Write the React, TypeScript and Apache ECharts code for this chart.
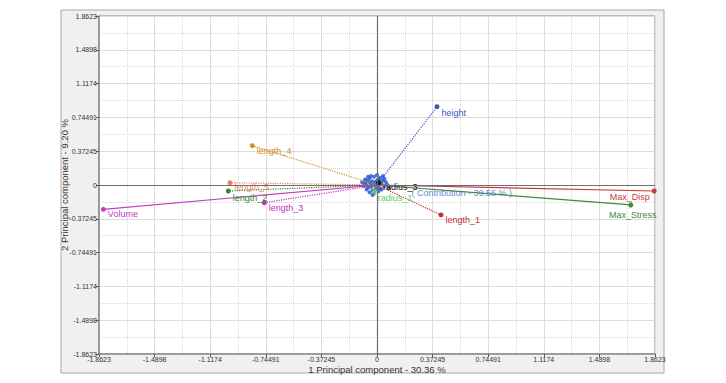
import React, { useEffect, useRef } from "react";
import * as echarts from "echarts";

const tickLabels = ["-1.8623", "-1.4898", "-1.1174", "-0.74491", "-0.37245", "0", "0.37245", "0.74491", "1.1174", "1.4898", "1.8623"];
const axisMax = 1.8623;
const axisStep = 0.37246;

const varNames = ["height", "length_4", "length_5", "length_2", "length_3", "Volume", "length_1", "Max_Disp", "Max_Stress", "radius_3", "radius_1"];
const varX = [0.402, -0.835, -0.985, -0.996, -0.755, -1.833, 0.429, 1.857, 1.70, 0.01, -0.018];
const varY = [0.863, 0.433, 0.025, -0.066, -0.195, -0.268, -0.33, -0.066, -0.22, 0.025, -0.074];
const varColors = ["#3557c8", "#d4901e", "#f07f5e", "#2f8a2f", "#c232c2", "#c23cc2", "#c8302c", "#c83a3a", "#3c8c3c", "#111111", "#5ecf5e"];
const varLineTypes = ["dotted", "dotted", "dotted", "dotted", "dotted", "solid", "dotted", "solid", "solid", "dotted", "dotted"];

const obsX = [-0.08, -0.07, -0.06, -0.05, -0.04, -0.03, -0.02, -0.01, 0.0, 0.01, 0.02, 0.03, 0.04, 0.05, 0.06, -0.09, -0.07, -0.05, -0.03, -0.02, 0.0, 0.02, -0.06, -0.04, 0.01, 0.03, -0.08, -0.01, 0.04, 0.07, -0.05, -0.03, 0.0, -0.07, 0.02, -0.1, 0.08, -0.02, 0.05, -0.04];
const obsY = [0.02, 0.05, -0.03, 0.07, 0.01, -0.06, 0.09, 0.03, -0.02, 0.06, -0.04, 0.02, 0.05, -0.01, 0.03, -0.01, -0.05, -0.08, 0.04, -0.09, 0.11, 0.08, 0.09, -0.02, -0.07, -0.05, 0.06, -0.04, 0.1, 0.0, 0.03, -0.11, 0.05, 0.0, 0.01, 0.03, -0.03, 0.0, 0.07, 0.1];

const contributionText = "( Contribution - 39.56 % )";
const contributionAt = [0.228, -0.088];

const xName = "1 Principal component - 30.36 %";
const yName = "2 Principal component - 9.20 %";

const labelOffsets: Record<string, any> = {
  height: { position: "right", offset: [-3, 6] },
  length_4: { position: "right", offset: [-3, 5] },
  length_5: { position: "right", offset: [-3, 4] },
  length_2: { position: "right", offset: [-3, 7] },
  length_3: { position: "right", offset: [-3, 5] },
  Volume: { position: "right", offset: [-3, 5] },
  length_1: { position: "right", offset: [-3, 5] },
  Max_Disp: { position: "left", offset: [3, 6] },
  Max_Stress: { position: "bottom", offset: [2, -2] },
  radius_3: { position: "right", offset: [-3, 4] },
  radius_1: { position: "right", offset: [-4, 6] },
};

export default function App() {
  const ref = useRef<HTMLDivElement>(null);
  useEffect(() => {
    if (!ref.current) return;
    const chart = echarts.init(ref.current, null, { renderer: "svg" });
    const font = "Liberation Sans, Arial, sans-serif";
    const fmt = (v: number) => {
      const i = Math.round((v + axisMax) / axisStep);
      return tickLabels[i] ?? "";
    };
    const series: any[] = [];
    series.push({
      type: "scatter",
      name: "obs",
      data: obsX.map((x, i) => [x, obsY[i]]),
      symbolSize: 4,
      itemStyle: { color: "#2050d0" },
      z: 3,
      markLine: {
        silent: true,
        symbol: "none",
        label: { show: false },
        lineStyle: { color: "#6e6e6e", width: 1.2, type: "solid" },
        data: [{ xAxis: 0 }, { yAxis: 0 }],
      },
    });
    varNames.forEach((n, i) => {
      const lo = labelOffsets[n];
      series.push({
        type: "line",
        name: n,
        data: [
          { value: [0, 0], symbol: "none", label: { show: false } },
          {
            value: [varX[i], varY[i]],
            symbol: "circle",
            symbolSize: 5,
            label: {
              show: true,
              formatter: n,
              position: lo.position,
              offset: lo.offset,
              color: varColors[i],
              fontFamily: font,
              fontSize: 9,
            },
          },
        ],
        lineStyle: { color: varColors[i], width: 1.2, type: varLineTypes[i] },
        itemStyle: { color: varColors[i] },
        z: 4,
      });
    });
    series.push({
      type: "scatter",
      name: "contribution",
      data: [contributionAt],
      symbolSize: 1,
      itemStyle: { color: "rgba(0,0,0,0)" },
      label: {
        show: true,
        formatter: contributionText,
        position: "right",
        distance: 0,
        color: "#3a66c8",
        fontFamily: font,
        fontSize: 9,
      },
      z: 5,
    });
    const axisCommon = {
      type: "value",
      min: -axisMax,
      max: axisMax,
      interval: axisStep,
      axisLine: { show: true, onZero: false, lineStyle: { color: "#8a8a8a", width: 1.5 } },
      axisTick: { show: true, length: 3, lineStyle: { color: "#555" } },
      axisLabel: { formatter: fmt, fontSize: 7, color: "#333", fontFamily: font, margin: 2 },
      splitLine: { show: true, lineStyle: { color: "#dcdcdc", width: 1 } },
      minorTick: { show: false, splitNumber: 2 },
      minorSplitLine: { show: true, lineStyle: { color: "#d8d8d8", type: "dotted", width: 1 } },
      nameLocation: "middle",
      nameMoveOverlap: false,
      nameTextStyle: { fontFamily: font, fontSize: 9.5, color: "#333" },
    };
    chart.setOption({
      animation: false,
      graphic: [
        {
          type: "rect",
          z: -10,
          silent: true,
          shape: { x: 61, y: 10, width: 603, height: 363 },
          style: { fill: "#f0f0f0", stroke: "#a8a8a8", lineWidth: 1 },
        },
      ],
      grid: {
        left: 99,
        right: 71,
        top: 16,
        bottom: 29,
        show: true,
        backgroundColor: "#ffffff",
        borderColor: "#8a8a8a",
        borderWidth: 1,
      },
      xAxis: { ...axisCommon, name: xName, nameGap: 10 },
      yAxis: { ...axisCommon, name: yName, nameGap: 30, nameRotate: 90 },
      series,
    });
    return () => chart.dispose();
  }, []);
  return <div ref={ref} style={{ position: "absolute", left: 0, top: 0, width: 726, height: 383 }} />;
}
